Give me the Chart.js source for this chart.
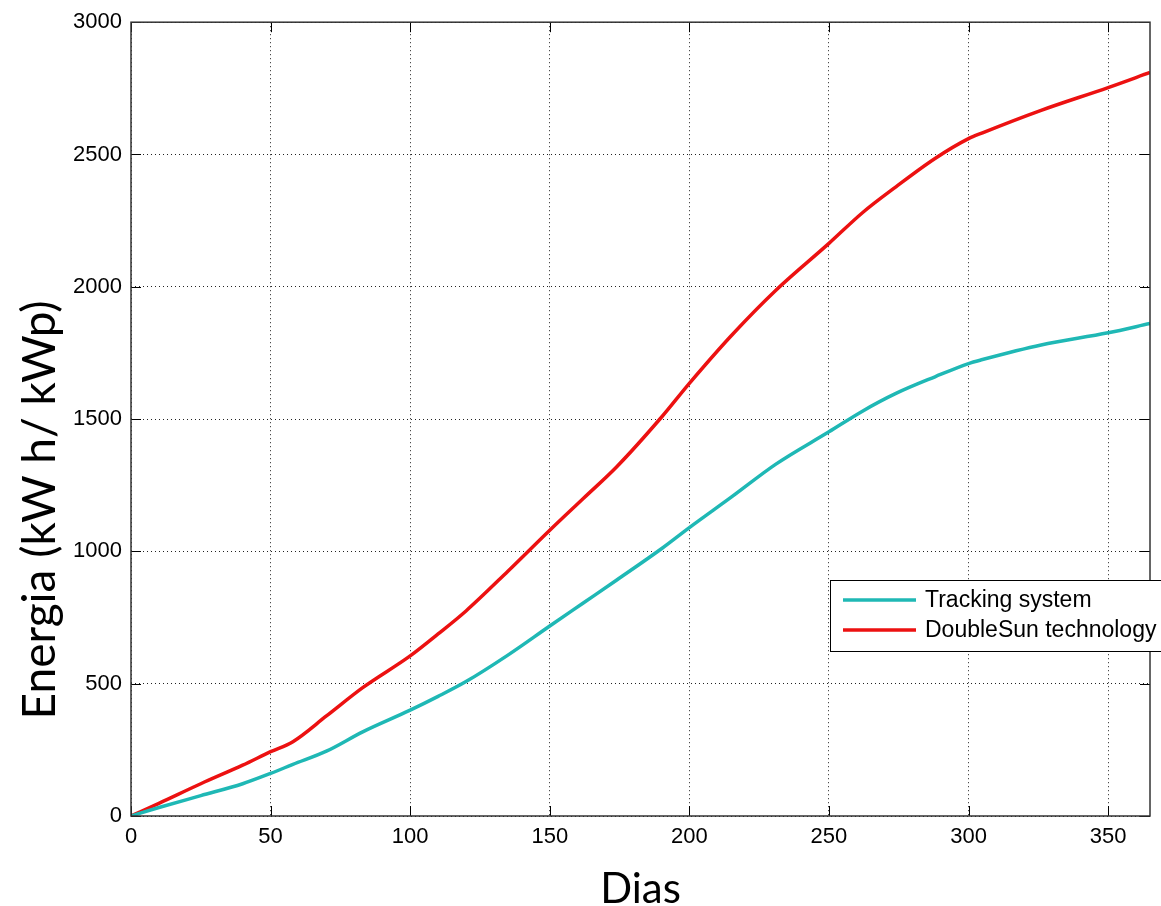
<!DOCTYPE html>
<html>
<head>
<meta charset="utf-8">
<title>Energia acumulada</title>
<script src="https://cdn.jsdelivr.net/npm/chart.js@4.4.1/dist/chart.umd.min.js"></script>
<style>
  html, body { margin: 0; padding: 0; background: #fff; }
  canvas { display: block; }
</style>
</head>
<body>
<canvas id="chart" width="1161" height="906"></canvas>
<script>
const days = [0, 10, 25, 40, 50, 58, 70, 83, 100, 110, 120, 135, 150, 162, 174, 190, 200, 215, 231, 250, 262, 274, 288, 300, 305, 326, 350, 365];

// Cumulative energy (kW h / kWp)
const tracking = [0, 32, 77, 122, 161, 195, 245, 318, 400, 452, 508, 608, 718, 805, 892, 1010, 1090, 1205, 1330, 1452, 1530, 1597, 1660, 1710, 1725, 1780, 1826, 1861];
const doubleSun = [0, 48, 122, 192, 243, 281, 378, 485, 605, 688, 775, 925, 1080, 1200, 1320, 1507, 1635, 1815, 1987, 2164, 2280, 2378, 2485, 2560, 2582, 2667, 2753, 2810];

const seriesLabels = ['Tracking system', 'DoubleSun technology'];
const seriesColors = ['#1fb8b5', '#ec1111'];

const xTitle = 'Dias';
const yTitle = 'Energia (kW h/ kWp)';

const toPoints = vals => days.map((d, i) => ({ x: d, y: vals[i] }));

// MATLAB-like frame: box, inward ticks, boxed legend and y title
const matlabFrame = {
  id: 'matlabFrame',
  afterDraw(chart) {
    const ctx = chart.ctx;
    const area = chart.chartArea;
    const xs = chart.scales.x;
    const ys = chart.scales.y;

    ctx.save();
    // inward tick marks on all four sides
    ctx.strokeStyle = '#000';
    ctx.lineWidth = 1;
    ctx.beginPath();
    xs.ticks.forEach(t => {
      const px = Math.round(xs.getPixelForValue(t.value)) + 0.5;
      ctx.moveTo(px, area.bottom); ctx.lineTo(px, area.bottom - 10);
      ctx.moveTo(px, area.top); ctx.lineTo(px, area.top + 10);
    });
    ys.ticks.forEach(t => {
      const py = Math.round(ys.getPixelForValue(t.value)) + 0.5;
      ctx.moveTo(area.left, py); ctx.lineTo(area.left + 10, py);
      ctx.moveTo(area.right, py); ctx.lineTo(area.right - 10, py);
    });
    ctx.stroke();

    // box
    ctx.strokeStyle = '#333';
    ctx.lineWidth = 1.5;
    ctx.strokeRect(area.left, area.top, area.right - area.left, area.bottom - area.top);

    // legend box
    const lx = 830, ly = 580, lw = 340, lh = 71;
    ctx.fillStyle = '#fff';
    ctx.fillRect(lx, ly, lw, lh);
    ctx.strokeStyle = '#000';
    ctx.lineWidth = 1;
    ctx.strokeRect(lx + 0.5, ly + 0.5, lw, lh);
    ctx.font = '23px "Liberation Sans", Arial, sans-serif';
    ctx.textBaseline = 'middle';
    ctx.textAlign = 'left';
    chart.data.datasets.forEach((ds, i) => {
      const cy = ly + 20 + i * 30;
      ctx.strokeStyle = ds.borderColor;
      ctx.lineWidth = 3.5;
      ctx.beginPath();
      ctx.moveTo(843, cy); ctx.lineTo(916, cy);
      ctx.stroke();
      ctx.fillStyle = '#000';
      ctx.fillText(ds.label, 925, cy + 1);
    });

    // y axis title (sits lower than the plot centre in the original)
    ctx.translate(40, 510);
    ctx.rotate(-Math.PI / 2);
    ctx.font = '46px Lato, "Open Sans", sans-serif';
    ctx.textAlign = 'center';
    ctx.textBaseline = 'middle';
    ctx.fillStyle = '#000';
    ctx.fillText(yTitle, 0, 0);
    ctx.restore();
  }
};

const tickFont = { family: '"Liberation Sans", Arial, sans-serif', size: 22 };
const plainNumber = v => String(v);

new Chart(document.getElementById('chart'), {
  type: 'line',
  data: {
    datasets: [
      { label: seriesLabels[0], data: toPoints(tracking), borderColor: seriesColors[0] },
      { label: seriesLabels[1], data: toPoints(doubleSun), borderColor: seriesColors[1] }
    ]
  },
  options: {
    responsive: false,
    animation: false,
    devicePixelRatio: 1,
    layout: { padding: { top: 22, right: 11, left: 0, bottom: 0 } },
    elements: {
      point: { radius: 0 },
      line: { borderWidth: 3.5, cubicInterpolationMode: 'monotone', fill: false }
    },
    plugins: {
      legend: { display: false },
      tooltip: { enabled: false }
    },
    scales: {
      x: {
        type: 'linear',
        min: 0,
        max: 365,
        afterFit: s => { s.height = 90; },
        ticks: { stepSize: 50, includeBounds: false, color: '#000', font: tickFont, padding: 8, maxRotation: 0, callback: plainNumber },
        grid: { color: '#222', lineWidth: 1, drawTicks: false },
        border: { display: false, dash: [1, 3] },
        title: {
          display: true,
          text: xTitle,
          color: '#000',
          font: { family: 'Lato, "Open Sans", sans-serif', size: 42, lineHeight: 0.8 },
          padding: { top: 0, bottom: 0 }
        }
      },
      y: {
        type: 'linear',
        min: 0,
        max: 3000,
        afterFit: s => { s.width = 131; },
        ticks: { stepSize: 500, color: '#000', font: tickFont, padding: 9, callback: plainNumber },
        grid: { color: '#222', lineWidth: 1, drawTicks: false },
        border: { display: false, dash: [1, 3] }
      }
    }
  },
  plugins: [matlabFrame]
});
</script>
</body>
</html>
